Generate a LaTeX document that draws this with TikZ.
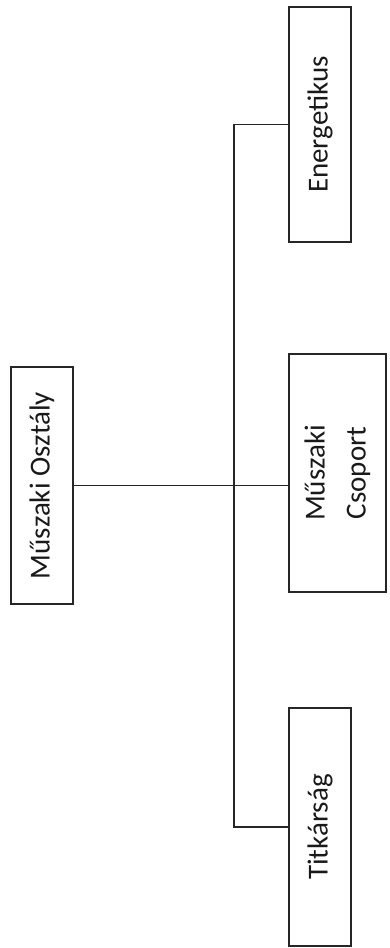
\documentclass[tikz,border=0pt]{standalone}
\usepackage{fontspec}
\setmainfont{Carlito}
\usepackage{tikz}
\usetikzlibrary{positioning, calc}

\begin{document}
\begin{tikzpicture}[x=1pt, y=1pt,
      unit/.style={draw=black!85, line width=1.8pt, rotate=90, inner sep=0pt, text=black!90, font=\fontsize{29}{41}\selectfont, align=center},
      link/.style={draw=black!85, line width=1.6pt}
    ]
      % Page frame
      \useasboundingbox (0,0) rectangle (390,-948);

      % Head unit on the left
      \node[unit, minimum width=237pt, minimum height=62pt] (osztaly) at (42,-485.5) {Műszaki Osztály};

      % Sub units on the right
      \node[unit, minimum width=235pt, minimum height=62pt] (energetikus) at (320,-124.5) {Energetikus};
      \node[unit, minimum width=238pt, minimum height=97pt] (csoport) at (337.5,-473) {Műszaki\\Csoport};
      \node[unit, minimum width=238pt, minimum height=62pt] (titkarsag) at (320,-827) {Titkárság};

      % Vertical bus between head and sub units
      \coordinate (bus) at (234,0);

      % Connectors
      \draw[link] (osztaly.south) -- (osztaly.south -| csoport.north);
      \draw[link] (energetikus.north) -| (bus |- titkarsag.north) -- (titkarsag.north);
    \end{tikzpicture}
\end{document}
